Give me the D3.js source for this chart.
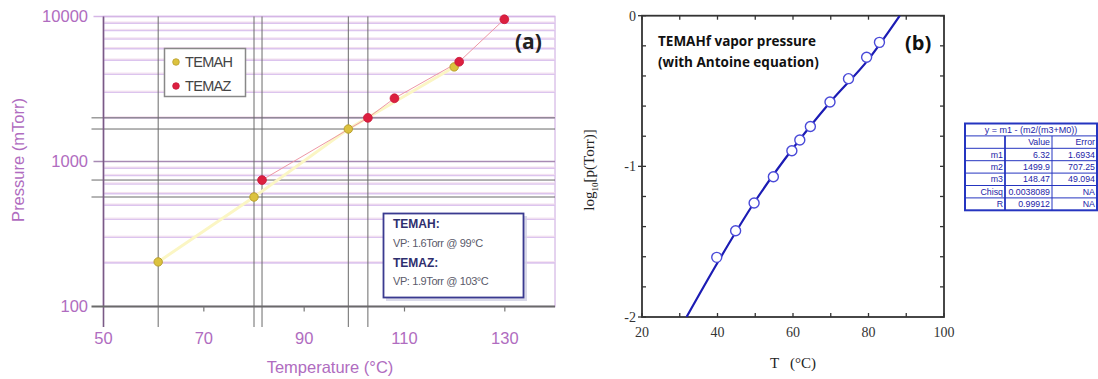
<!DOCTYPE html>
<html><head><meta charset="utf-8">
<script src="https://cdn.jsdelivr.net/npm/d3@7"></script>
<style>html,body{margin:0;padding:0;background:#fff;}svg{display:block;}</style>
</head><body>
<svg id="c" width="1098" height="379"></svg>
<script>
// ---------- Panel (a) data ----------
const temahT = [60.9, 80.0, 98.8, 119.9];
const temahP = [203, 569, 1675, 4490];
const temazT = [81.6, 102.7, 108.0, 120.9, 129.9];
const temazP = [745, 2000, 2730, 4875, 9570];
const refVertT = [60.9, 80.0, 81.6, 98.8, 102.7];
const refHorizP = [569, 745, 1675, 2000];
const aXTicks = [50, 70, 90, 110, 130];
const aYTicks = [100, 1000, 10000];
const legendNames = ["TEMAH", "TEMAZ"];
const noteLines = [["TEMAH:", "VP: 1.6Torr @ 99°C"], ["TEMAZ:", "VP: 1.9Torr @ 103°C"]];

// ---------- Panel (b) data ----------
const bT = [39.8, 44.8, 49.7, 54.8, 59.7, 61.8, 64.6, 69.8, 74.7, 79.5, 82.9];
const bLogP = [-1.604, -1.427, -1.243, -1.069, -0.896, -0.825, -0.735, -0.573, -0.418, -0.276, -0.177];
const fitT = [31.8, 40, 50, 60, 70, 80, 88.3];
const fitLogP = [-2.0, -1.64, -1.23, -0.88, -0.57, -0.29, 0.0];
const bXTicks = [20, 40, 60, 80, 100];
const bYTicks = [0, -1, -2];
const tableHeader = "y = m1 - (m2/(m3+M0))";
const tableCols = ["", "Value", "Error"];
const tableRows = [["m1", "6.32", "1.6934"], ["m2", "1499.9", "707.25"], ["m3", "148.47", "49.094"], ["Chisq", "0.0038089", "NA"], ["R", "0.99912", "NA"]];

const svg = d3.select("#c");

// ================= Panel (a) =================
const ax = d3.scaleLinear().domain([50, 140]).range([103.5, 555]);
const ay = d3.scaleLog().domain([100, 10000]).range([306.5, 16.5]);
const purple = "#b06cc0";
const ga = svg.append("g");

ga.append("rect").attr("x", ax(50)).attr("y", ay(10000)).attr("width", ax(140) - ax(50)).attr("height", ay(100) - ay(10000))
  .attr("fill", "#fff").attr("stroke", "#dcc4ea").attr("stroke-width", 1.5);

const minor = [];
[100, 1000].forEach(d => { for (let k = 2; k <= 9; k++) minor.push(d * k); });
ga.selectAll(".mg").data(minor).join("line")
  .attr("x1", ax(50)).attr("x2", ax(140)).attr("y1", d => ay(d)).attr("y2", d => ay(d))
  .attr("stroke", "#dcc4ee").attr("stroke-width", 1.6);
ga.selectAll(".mg2").data(minor).join("line")
  .attr("x1", ax(50)).attr("x2", ax(140)).attr("y1", d => ay(d) - 1.2).attr("y2", d => ay(d) - 1.2)
  .attr("stroke", "#f3dcec").attr("stroke-width", 0.8);
ga.selectAll(".dg").data([1000, 10000]).join("line")
  .attr("x1", ax(50) - 10).attr("x2", ax(140)).attr("y1", d => ay(d)).attr("y2", d => ay(d))
  .attr("stroke", d => d === 1000 ? "#a78ab4" : "#d5b6e6").attr("stroke-width", 1.6);

ga.selectAll(".rv").data(refVertT).join("line")
  .attr("x1", d => ax(d)).attr("x2", d => ax(d)).attr("y1", ay(10000)).attr("y2", 327)
  .attr("stroke", "#6a6a6a").attr("stroke-width", 1);
ga.selectAll(".rh").data(refHorizP).join("line")
  .attr("x1", ax(50) - 12).attr("x2", ax(140)).attr("y1", d => ay(d)).attr("y2", d => ay(d))
  .attr("stroke", "#6a6a6a").attr("stroke-width", 1);

ga.append("line").attr("x1", ax(50)).attr("x2", ax(50)).attr("y1", ay(10000)).attr("y2", 327)
  .attr("stroke", "#7a5a86").attr("stroke-width", 1.6);
ga.append("line").attr("x1", ax(50) - 12).attr("x2", ax(140)).attr("y1", ay(100)).attr("y2", ay(100))
  .attr("stroke", "#6a6a6a").attr("stroke-width", 1.8);
ga.selectAll(".xt").data(aXTicks.slice(1)).join("line")
  .attr("x1", d => ax(d)).attr("x2", d => ax(d)).attr("y1", ay(100)).attr("y2", ay(100) + 5)
  .attr("stroke", "#777").attr("stroke-width", 1.2);

ga.selectAll(".yl").data(aYTicks).join("text")
  .attr("x", 88).attr("y", d => ay(d)).attr("dy", "0.36em").attr("text-anchor", "end")
  .attr("font-family", "Liberation Sans, Arial, sans-serif").attr("font-size", 16.5).attr("fill", purple)
  .text(d => d);
ga.selectAll(".xl").data(aXTicks).join("text")
  .attr("x", d => ax(d)).attr("y", 344).attr("text-anchor", "middle")
  .attr("font-family", "Liberation Sans, Arial, sans-serif").attr("font-size", 16.5).attr("fill", purple)
  .text(d => d);
ga.append("text").attr("x", 330).attr("y", 373).attr("text-anchor", "middle")
  .attr("font-family", "Liberation Sans, Arial, sans-serif").attr("font-size", 16.5).attr("fill", purple)
  .text("Temperature (°C)");
ga.append("text").attr("transform", "translate(24,160) rotate(-90)").attr("text-anchor", "middle")
  .attr("font-family", "Liberation Sans, Arial, sans-serif").attr("font-size", 16.5).attr("fill", purple)
  .text("Pressure (mTorr)");

const lineA = (T, P) => d3.line().x(i => ax(T[i])).y(i => ay(P[i]))(d3.range(T.length));
ga.append("path").attr("d", lineA(temahT, temahP)).attr("fill", "none").attr("stroke", "#fbf6c4").attr("stroke-width", 3);
ga.append("path").attr("d", lineA(temazT, temazP)).attr("fill", "none").attr("stroke", "#ee98a6").attr("stroke-width", 1);
ga.selectAll(".ph").data(d3.range(temahT.length)).join("circle")
  .attr("cx", i => ax(temahT[i])).attr("cy", i => ay(temahP[i])).attr("r", 4.2)
  .attr("fill", "#dcc23e").attr("stroke", "#b8a030").attr("stroke-width", 1);
ga.selectAll(".pz").data(d3.range(temazT.length)).join("circle")
  .attr("cx", i => ax(temazT[i])).attr("cy", i => ay(temazP[i])).attr("r", 4.4)
  .attr("fill", "#dc1f3f").attr("stroke", "#c8183a").attr("stroke-width", 0.8);

const lg = ga.append("g");
lg.append("rect").attr("x", 164.5).attr("y", 48.5).attr("width", 81).attr("height", 48)
  .attr("fill", "#fff").attr("stroke", "#888").attr("stroke-width", 1.5);
legendNames.forEach((n, i) => {
  const y = 62 + i * 24;
  lg.append("circle").attr("cx", 176).attr("cy", y).attr("r", 3.3)
    .attr("fill", i ? "#dc1f3f" : "#dcc23e").attr("stroke", i ? "#c8183a" : "#b8a030").attr("stroke-width", 0.8);
  lg.append("text").attr("x", 185).attr("y", y).attr("dy", "0.36em")
    .attr("font-family", "Liberation Sans, Arial, sans-serif").attr("font-size", 14.5).attr("fill", "#444")
    .attr("letter-spacing", -0.7).text(n);
});

const nb = ga.append("g");
nb.append("rect").attr("x", 386).attr("y", 216).attr("width", 141).attr("height", 85).attr("fill", "#d0d0e4").attr("opacity", 0.8);
nb.append("rect").attr("x", 383.5).attr("y", 213.5).attr("width", 140).attr("height", 84)
  .attr("fill", "#fff").attr("stroke", "#3a3a90").attr("stroke-width", 1.8);
noteLines.forEach((pair, i) => {
  nb.append("text").attr("x", 393).attr("y", 228 + i * 39)
    .attr("font-family", "Liberation Sans, Arial, sans-serif").attr("font-size", 12).attr("font-weight", "bold")
    .attr("fill", "#2e2e6e").text(pair[0]);
  nb.append("text").attr("x", 393).attr("y", 247 + i * 37.5)
    .attr("font-family", "Liberation Sans, Arial, sans-serif").attr("font-size", 11).attr("fill", "#5a5a6a")
    .attr("letter-spacing", -0.4).text(pair[1]);
});
ga.append("text").attr("x", 515).attr("y", 49).attr("font-family", "Open Sans, Liberation Sans, sans-serif")
  .attr("font-size", 21).attr("font-weight", "bold").attr("fill", "#222").text("(a)");

// ================= Panel (b) =================
const bx = d3.scaleLinear().domain([20, 100]).range([642, 944]);
const by = d3.scaleLinear().domain([-2, 0]).range([317, 15.7]);
const gb = svg.append("g");
const serif = "Liberation Serif, DejaVu Serif, serif";

const xt = d3.range(20, 101, 10), yt = d3.range(-2, 0.001, 0.2);
gb.selectAll(".bxt").data(xt).join("line").attr("x1", d => bx(d)).attr("x2", d => bx(d))
  .attr("y1", by(-2)).attr("y2", by(-2) - 4).attr("stroke", "#333").attr("stroke-width", 1.3);
gb.selectAll(".bxt2").data(xt).join("line").attr("x1", d => bx(d)).attr("x2", d => bx(d))
  .attr("y1", by(0)).attr("y2", by(0) + 4).attr("stroke", "#333").attr("stroke-width", 1.3);
gb.selectAll(".byt").data(yt).join("line").attr("x1", bx(20)).attr("x2", bx(20) + 4)
  .attr("y1", d => by(d)).attr("y2", d => by(d)).attr("stroke", "#333").attr("stroke-width", 1.3);
gb.selectAll(".byt2").data(yt).join("line").attr("x1", bx(100)).attr("x2", bx(100) - 4)
  .attr("y1", d => by(d)).attr("y2", d => by(d)).attr("stroke", "#333").attr("stroke-width", 1.3);
gb.selectAll(".byt3").data(bYTicks).join("line").attr("x1", bx(20)).attr("x2", bx(20) - 4)
  .attr("y1", d => by(d)).attr("y2", d => by(d)).attr("stroke", "#333").attr("stroke-width", 1.3);

gb.append("rect").attr("x", bx(20)).attr("y", by(0)).attr("width", bx(100) - bx(20)).attr("height", by(-2) - by(0))
  .attr("fill", "none").attr("stroke", "#333").attr("stroke-width", 1.8);

gb.selectAll(".bxl").data(bXTicks).join("text").attr("x", d => bx(d)).attr("y", 337)
  .attr("text-anchor", "middle").attr("font-family", serif).attr("font-size", 14).attr("fill", "#333").text(d => d);
gb.selectAll(".byl").data(bYTicks).join("text").attr("x", 636).attr("y", d => by(d)).attr("dy", "0.36em")
  .attr("text-anchor", "end").attr("font-family", serif).attr("font-size", 14).attr("fill", "#333").text(d => d);
gb.append("text").attr("x", 793).attr("y", 368).attr("text-anchor", "middle").attr("font-family", serif)
  .attr("font-size", 15).attr("fill", "#222").attr("xml:space", "preserve").text("T   (°C)");
const yl = gb.append("text").attr("transform", "translate(594,170) rotate(-90)").attr("text-anchor", "middle")
  .attr("font-family", serif).attr("font-size", 15).attr("fill", "#222");
yl.append("tspan").text("log");
yl.append("tspan").attr("font-size", 9).attr("dy", 4).text("10");
yl.append("tspan").attr("dy", -4).text("[p(Torr)]");

svg.append("clipPath").attr("id", "bclip").append("rect")
  .attr("x", bx(20)).attr("y", by(0)).attr("width", bx(100) - bx(20)).attr("height", by(-2) - by(0));
gb.append("path").attr("clip-path", "url(#bclip)")
  .attr("d", d3.line().curve(d3.curveMonotoneX).x(i => bx(fitT[i])).y(i => by(fitLogP[i]))(d3.range(fitT.length)))
  .attr("fill", "none").attr("stroke", "#1c1cb4").attr("stroke-width", 2.2);
gb.selectAll(".bp").data(d3.range(bT.length)).join("circle")
  .attr("cx", i => bx(bT[i])).attr("cy", i => by(bLogP[i])).attr("r", 5)
  .attr("fill", "#fff").attr("stroke", "#4a4ad8").attr("stroke-width", 1.4);

gb.append("text").attr("x", 658).attr("y", 46).attr("font-family", "Open Sans, Noto Sans, sans-serif")
  .attr("font-size", 13.5).attr("font-weight", "bold").attr("fill", "#111").text("TEMAHf vapor pressure");
gb.append("text").attr("x", 658).attr("y", 67).attr("font-family", "Open Sans, Noto Sans, sans-serif")
  .attr("font-size", 13.5).attr("font-weight", "bold").attr("fill", "#111").text("(with Antoine equation)");
gb.append("text").attr("x", 905).attr("y", 50).attr("font-family", "Open Sans, Noto Sans, sans-serif")
  .attr("font-size", 20).attr("font-weight", "bold").attr("fill", "#111").text("(b)");

// ================= Table =================
const tg = svg.append("g");
const colX = [965, 1005, 1052, 1097];
const rowH = 12.4, top0 = 123.5;
const nRows = 2 + tableRows.length;
const blue = "#2535c0", tcol = "#2424a8";
tg.append("rect").attr("x", colX[0]).attr("y", top0).attr("width", colX[3] - colX[0]).attr("height", rowH * nRows)
  .attr("fill", "#fff").attr("stroke", blue).attr("stroke-width", 2);
for (let r = 1; r < nRows; r++) {
  tg.append("line").attr("x1", colX[0]).attr("x2", colX[3]).attr("y1", top0 + r * rowH).attr("y2", top0 + r * rowH)
    .attr("stroke", blue).attr("stroke-width", 1);
}
[1, 2].forEach(c => tg.append("line").attr("x1", colX[c]).attr("x2", colX[c]).attr("y1", top0 + rowH).attr("y2", top0 + rowH * nRows)
  .attr("stroke", blue).attr("stroke-width", c === 1 ? 1.8 : 1));
const tfont = "Liberation Sans, Arial, sans-serif";
tg.append("text").attr("x", (colX[0] + colX[3]) / 2).attr("y", top0 + rowH / 2).attr("dy", "0.36em").attr("text-anchor", "middle")
  .attr("font-family", tfont).attr("font-size", 9).attr("fill", tcol).text(tableHeader);
const allRows = [tableCols].concat(tableRows);
allRows.forEach((row, r) => {
  const yy = top0 + (r + 1.5) * rowH;
  row.forEach((t, c) => {
    tg.append("text").attr("x", colX[c + 1] - 2).attr("y", yy).attr("dy", "0.36em").attr("text-anchor", "end")
      .attr("font-family", tfont).attr("font-size", 8.8).attr("fill", tcol).text(t);
  });
});
</script>
</body></html>
